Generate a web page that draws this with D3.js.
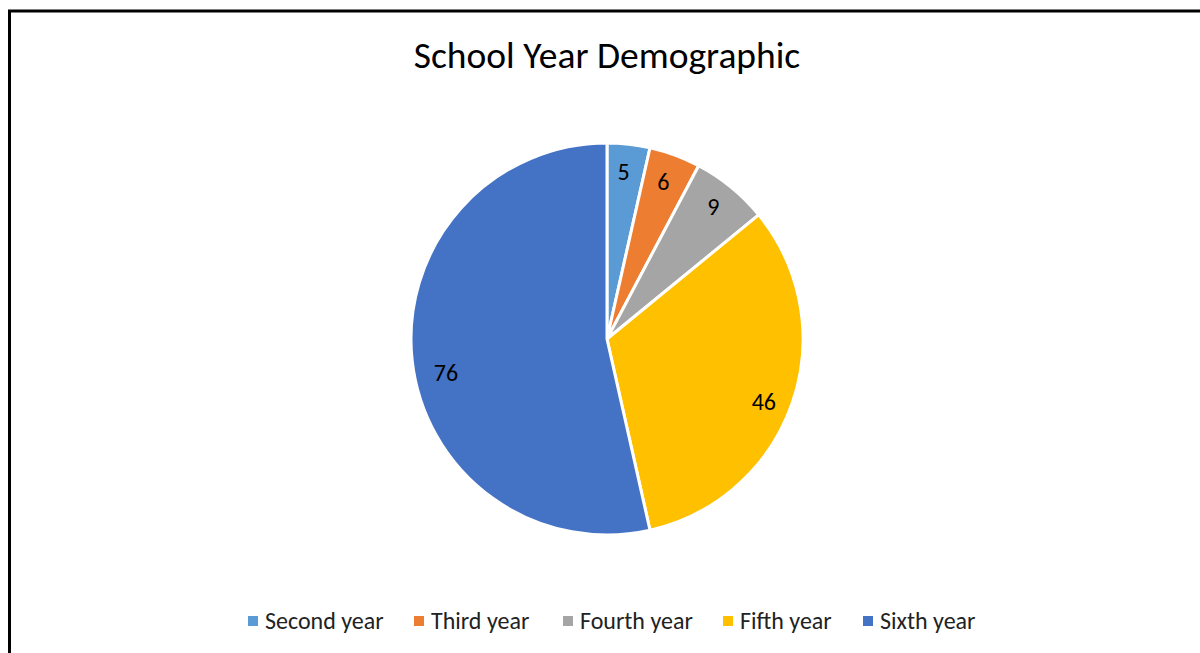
<!DOCTYPE html>
<html>
<head>
<meta charset="utf-8">
<script src="https://cdn.jsdelivr.net/npm/d3@7"></script>
<style>
  body { margin: 0; background: #fff; }
  text { font-family: Carlito, Calibri, "Open Sans", sans-serif; }
</style>
</head>
<body>
<div id="chart"></div>
<script>
var categories = ["Second year", "Third year", "Fourth year", "Fifth year", "Sixth year"];
var values = [5, 6, 9, 46, 76];
var colors = ["#5B9BD5", "#ED7D31", "#A5A5A5", "#FFC000", "#4472C4"];
var legendX = [248, 414, 563, 723, 863];
// Excel "best fit" moves the labels of the big slices a little
var labelNudge = [[-2, 0], [-2, 0], [0, -2], [-2, 8], [6, 15]];

var width = 1200, height = 653;
var cx = 607, cy = 339, radius = 196;

var svg = d3.select("#chart").append("svg")
  .attr("width", width)
  .attr("height", height);

// chart frame, runs off the right and bottom edge
svg.append("rect")
  .attr("x", 9.5).attr("y", 11)
  .attr("width", 1300).attr("height", 800)
  .attr("fill", "#fff")
  .attr("stroke", "#000")
  .attr("stroke-width", 3);

svg.append("text")
  .attr("x", 607).attr("y", 68)
  .attr("text-anchor", "middle")
  .attr("font-size", 37.5)
  .attr("fill", "#000")
  .text("School Year Demographic");

var pie = d3.pie().sort(null).value(function(d) { return d; });
var arcs = pie(values);
var arc = d3.arc().innerRadius(0).outerRadius(radius);
var labelArc = d3.arc().innerRadius(168).outerRadius(168);

var g = svg.append("g").attr("transform", "translate(" + cx + "," + cy + ")");

g.selectAll("path")
  .data(arcs).enter()
  .append("path")
  .attr("d", arc)
  .attr("fill", function(d, i) { return colors[i]; })
  .attr("stroke", "#fff")
  .attr("stroke-width", 3)
  .attr("stroke-linejoin", "round");

g.selectAll("text.lbl")
  .data(arcs).enter()
  .append("text")
  .attr("class", "lbl")
  .attr("transform", function(d, i) {
    var c = labelArc.centroid(d);
    return "translate(" + (c[0] + labelNudge[i][0]) + "," + (c[1] + labelNudge[i][1]) + ")";
  })
  .attr("text-anchor", "middle")
  .attr("dy", "0.35em")
  .attr("font-size", 24)
  .attr("fill", "#000")
  .text(function(d) { return d.data; });

var legend = svg.selectAll("g.legend")
  .data(categories).enter()
  .append("g")
  .attr("class", "legend")
  .attr("transform", function(d, i) { return "translate(" + legendX[i] + ",621)"; });

legend.append("rect")
  .attr("x", 0).attr("y", -5)
  .attr("width", 10).attr("height", 10)
  .attr("fill", function(d, i) { return colors[i]; });

legend.append("text")
  .attr("x", 17).attr("y", 0)
  .attr("dy", "0.35em")
  .attr("font-size", 24)
  .attr("fill", "#222")
  .text(function(d) { return d; });
</script>
</body>
</html>
